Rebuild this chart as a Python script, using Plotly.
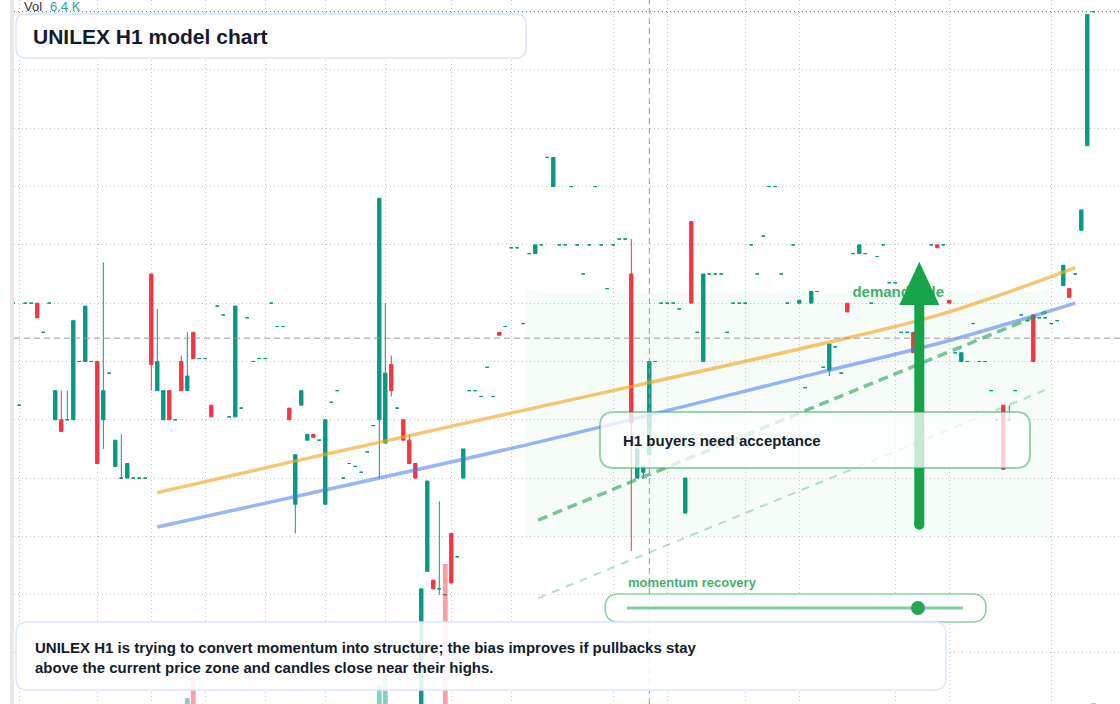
import plotly.graph_objects as go

W, H = 1120, 704
TEAL = "#089981"
RED = "#f23645"
GRID = "#c6c6c6"
INK = "#141c2c"
GREEN = "#16a34a"
FONT = "Liberation Sans, Arial, sans-serif"

# H1 candles, one per bar index (prices)
opens = [
    106.0, 104.25, 106.0, 106.0, 106.0, 105.5, 106.0, 104.0, 104.0, 104.0,
    104.0, 105.0, 105.0, 105.0, 105.0, 104.0, 104.8, 103.2, 103.0, 103.0,
    103.0, 103.0, 103.0, 106.5, 104.5, 104.0, 104.5, 104.0, 105.0, 104.5,
    105.5, 105.05, 105.05, 104.25, 105.95, 105.8, 104.05, 104.05, 104.2, 105.75,
    105.0, 105.05, 105.05, 106.0, 105.6, 105.6, 104.2, 102.55, 104.25, 103.65,
    103.75, 103.65, 102.55, 104.3, 104.5, 103.0, 103.25, 103.2, 103.1, 103.45,
    103.9, 104.0, 103.6, 104.95, 104.2, 104.0, 103.65, 103.25, 98.8, 101.4,
    101.25, 101.1, 101.0, 102.05, 101.65, 103.0, 104.5, 104.5, 104.4, 104.9,
    104.4, 105.5, 105.6, 106.95, 106.95, 105.65, 106.85, 106.85, 107.0, 108.5,
    108.0, 107.0, 107.0, 108.0, 107.0, 106.5, 107.0, 108.0, 107.0, 106.25,
    107.0, 107.1, 107.1, 106.5, 103.0, 103.1, 103.4, 105.0, 106.0, 106.0,
    106.0, 105.9, 102.4, 107.4, 105.5, 105.0, 106.5, 106.5, 106.5, 105.5,
    106.0, 106.0, 106.0, 107.0, 106.5, 107.15, 108.0, 108.0, 106.5, 106.0,
    107.0, 106.0, 104.55, 106.0, 106.2, 104.9, 104.85, 105.25, 104.8, 106.0,
    106.85, 106.85, 106.85, 106.0, 106.8, 107.0, 106.35, 106.35, 105.5, 105.5,
    105.5, 105.15, 106.0, 107.0, 107.0, 107.0, 106.05, 105.15, 105.0, 105.0,
    105.65, 105.0, 105.0, 104.5, 104.0, 104.25, 104.0, 104.5, 105.8, 105.7,
    105.8, 105.75, 105.75, 105.65, 105.7, 106.3, 106.25, 106.5, 107.25, 108.7,
    111.0,
]
highs = [
    106.0, 104.25, 106.0, 106.0, 106.0, 105.5, 106.0, 104.5, 104.5, 104.5,
    105.7, 105.0, 105.95, 105.0, 105.0, 106.7, 104.8, 103.65, 103.75, 103.25,
    103.0, 103.0, 103.0, 106.5, 105.9, 104.5, 104.5, 104.0, 105.1, 105.5,
    105.5, 105.05, 105.05, 104.25, 105.95, 105.8, 104.05, 105.95, 104.2, 105.75,
    105.0, 105.05, 105.05, 106.0, 105.6, 105.6, 104.2, 103.4, 104.5, 103.75,
    103.75, 103.65, 104.0, 104.3, 104.5, 103.0, 103.25, 103.2, 103.1, 103.45,
    103.9, 107.8, 106.0, 105.1, 104.2, 104.0, 103.75, 103.25, 101.1, 102.95,
    101.25, 102.6, 101.0, 102.05, 101.65, 103.5, 104.5, 104.5, 104.4, 104.9,
    104.4, 105.5, 105.6, 106.95, 106.95, 105.65, 106.85, 107.0, 107.0, 108.5,
    108.5, 107.0, 107.0, 108.0, 107.0, 106.5, 107.0, 108.0, 107.0, 106.25,
    107.0, 107.1, 107.1, 107.1, 103.5, 103.2, 105.0, 105.0, 106.0, 106.0,
    106.0, 105.9, 103.0, 107.4, 105.5, 106.5, 106.5, 106.5, 106.5, 105.5,
    106.0, 106.0, 106.0, 107.0, 106.5, 107.15, 108.0, 108.0, 106.5, 106.0,
    107.0, 106.05, 104.55, 106.2, 106.2, 104.9, 105.3, 105.25, 104.8, 106.0,
    106.85, 107.0, 106.85, 106.0, 106.8, 107.0, 106.35, 106.35, 105.5, 105.5,
    105.5, 105.15, 106.0, 107.0, 107.0, 107.0, 106.05, 105.15, 105.15, 105.0,
    105.65, 105.0, 105.0, 104.5, 104.0, 104.25, 104.25, 104.5, 105.8, 105.7,
    105.8, 105.75, 105.75, 105.65, 105.7, 106.65, 106.25, 106.5, 107.6, 110.95,
    111.0,
]
lows = [
    106.0, 104.25, 106.0, 106.0, 105.75, 105.5, 106.0, 104.0, 103.8, 104.0,
    104.0, 105.0, 105.0, 105.0, 103.25, 103.5, 104.8, 103.2, 103.0, 103.0,
    103.0, 103.0, 103.0, 104.5, 104.5, 104.0, 104.0, 104.0, 104.5, 104.5,
    105.05, 105.05, 105.05, 104.05, 105.95, 105.8, 104.05, 104.05, 104.2, 105.75,
    105.0, 105.05, 105.05, 106.0, 105.6, 105.6, 104.0, 102.05, 104.25, 103.65,
    103.7, 103.65, 102.55, 104.3, 104.5, 103.0, 103.25, 103.2, 103.1, 103.45,
    103.9, 103.0, 103.6, 104.4, 104.2, 103.65, 103.25, 103.0, 98.8, 101.4,
    101.1, 101.0, 101.0, 101.2, 101.65, 103.0, 104.5, 104.5, 104.4, 104.9,
    104.4, 105.45, 105.6, 106.95, 106.95, 105.65, 106.85, 106.85, 107.0, 108.5,
    108.0, 107.0, 107.0, 108.0, 107.0, 106.5, 107.0, 108.0, 107.0, 106.25,
    107.0, 107.1, 107.1, 101.75, 103.0, 103.0, 103.4, 105.0, 106.0, 106.0,
    106.0, 105.9, 102.4, 106.0, 105.5, 105.0, 106.5, 106.5, 106.5, 105.5,
    106.0, 106.0, 106.0, 107.0, 106.5, 107.15, 108.0, 108.0, 106.5, 106.0,
    107.0, 106.0, 104.55, 106.0, 106.2, 104.9, 104.75, 105.25, 104.8, 105.85,
    106.85, 106.85, 106.85, 106.0, 106.8, 107.0, 106.35, 106.35, 105.5, 105.5,
    105.15, 105.15, 106.0, 107.0, 106.95, 107.0, 106.0, 105.15, 105.0, 105.0,
    105.65, 105.0, 105.0, 104.5, 104.0, 103.15, 104.0, 104.5, 105.8, 105.7,
    105.0, 105.75, 105.75, 105.65, 105.7, 106.3, 106.1, 106.5, 107.25, 108.7,
    111.0,
]
closes = [
    106.0, 104.25, 106.0, 106.0, 105.75, 105.5, 106.0, 104.5, 103.8, 104.0,
    105.7, 105.0, 105.95, 105.0, 103.25, 104.5, 104.8, 103.65, 103.0, 103.25,
    103.0, 103.0, 103.0, 104.95, 105.0, 104.5, 104.0, 104.0, 104.5, 104.75,
    105.05, 105.05, 105.05, 104.05, 105.95, 105.8, 104.05, 105.95, 104.2, 105.75,
    105.0, 105.05, 105.05, 106.0, 105.6, 105.6, 104.0, 103.4, 104.5, 103.75,
    103.7, 103.65, 104.0, 104.3, 104.5, 103.0, 103.25, 103.2, 103.1, 103.45,
    103.9, 107.8, 104.8, 104.5, 104.2, 103.65, 103.25, 103.0, 101.1, 102.95,
    101.1, 101.1, 101.0, 101.2, 101.65, 103.5, 104.5, 104.5, 104.4, 104.9,
    104.4, 105.45, 105.6, 106.95, 106.95, 105.65, 106.85, 107.0, 107.0, 108.5,
    108.5, 107.0, 107.0, 108.0, 107.0, 106.5, 107.0, 108.0, 107.0, 106.25,
    107.0, 107.1, 107.1, 103.95, 103.5, 103.2, 105.0, 105.0, 106.0, 106.0,
    106.0, 105.9, 103.0, 106.0, 105.5, 106.5, 106.5, 106.5, 106.5, 105.5,
    106.0, 106.0, 106.0, 107.0, 106.5, 107.15, 108.0, 108.0, 106.5, 106.0,
    107.0, 106.05, 104.55, 106.2, 106.2, 104.9, 105.3, 105.25, 104.8, 105.85,
    106.85, 107.0, 106.85, 106.0, 106.8, 107.0, 106.35, 106.35, 105.5, 105.5,
    105.15, 105.15, 106.0, 107.0, 106.95, 107.0, 106.0, 105.15, 105.15, 105.0,
    105.65, 105.0, 105.0, 104.5, 104.0, 103.15, 104.0, 104.5, 105.8, 105.7,
    105.0, 105.75, 105.75, 105.65, 105.7, 106.65, 106.1, 106.5, 107.6, 110.95,
    111.0,
]
bars = list(range(len(opens)))

# volume (K) - only a handful of bars reach the bottom of the pane
vol_idx = [29, 30, 61, 62, 72, 180]
vol_k = [42, 182, 133, 203, 980, 6.4]
vol_up = [True, False, True, True, False, True]

# time grid (bar index of each session break)
grid_bars = [1, 14, 23, 32, 42, 52, 62, 73, 83, 100, 109, 122, 131, 147, 156, 173]

# overlays
orange_x = [24, 46, 88, 133, 155, 177]
orange_y = [102.75, 103.27, 104.23, 105.26, 105.82, 106.61]
blue_x = [24, 46, 88, 134, 156, 177]
blue_y = [102.16, 102.66, 103.63, 104.8, 105.36, 106.0]
trend_x = [87.45, 172.2]
trend_y = [102.28, 105.85]
trend_low_y = [100.94, 104.52]
zone_x = [85.4, 172.6]
zone_y = [102.0, 106.2]
arrow_bar = 151
arrow_y = [102.2, 105.97, 106.71]
cross_bar, cross_price = 106, 105.4
last_price = 111.0
momentum = 0.866


def rpath(x0, y0, x1, y1, rx, ry, conv):
    P = conv
    return (f"M{P(x0 + rx, y0)} L{P(x1 - rx, y0)} Q{P(x1, y0)} {P(x1, y0 + ry)} "
            f"L{P(x1, y1 - ry)} Q{P(x1, y1)} {P(x1 - rx, y1)} L{P(x0 + rx, y1)} "
            f"Q{P(x0, y1)} {P(x0, y1 - ry)} L{P(x0, y0 + ry)} Q{P(x0, y0)} {P(x0 + rx, y0)} Z")


def px(x, y):
    return f"{x / W:.5f},{1 - y / H:.5f}"


def dat(x, y):
    return f"{x:.4f},{y:.4f}"


def pbox(x0, y0, x1, y1, r, fill, line, lw=1.5):
    return dict(type="path", xref="paper", yref="paper", layer="above",
                path=rpath(x0, y0, x1, y1, r, r, px), fillcolor=fill,
                line=dict(color=line, width=lw))


def candles(sel, up, down):
    return go.Candlestick(
        x=[bars[i] for i in sel], open=[opens[i] for i in sel], high=[highs[i] for i in sel],
        low=[lows[i] for i in sel], close=[closes[i] for i in sel],
        increasing=dict(line=dict(color=up, width=1), fillcolor=up),
        decreasing=dict(line=dict(color=down, width=1), fillcolor=down),
        whiskerwidth=0, hoverinfo="skip",
    )


# doji bars (open == close) are drawn teal like the rest of the chart's flat prints
moving = [i for i in bars if opens[i] != closes[i]]
flat = [i for i in bars if opens[i] == closes[i]]

fig = go.Figure()

fig.add_trace(go.Bar(
    x=vol_idx, y=vol_k, yaxis="y2", width=0.8, hoverinfo="skip",
    marker=dict(color=["rgba(8,153,129,0.47)" if u else "rgba(242,54,69,0.47)" for u in vol_up],
                line_width=0),
))
fig.add_trace(candles(moving, TEAL, RED))
fig.add_trace(candles(flat, TEAL, TEAL))
fig.add_trace(go.Scatter(x=orange_x, y=orange_y, mode="lines", hoverinfo="skip",
                         line=dict(color="rgba(245,166,35,0.65)", width=3.5, shape="spline")))
fig.add_trace(go.Scatter(x=blue_x, y=blue_y, mode="lines", hoverinfo="skip",
                         line=dict(color="rgba(66,120,240,0.55)", width=3.5, shape="spline")))
fig.add_trace(go.Scatter(x=trend_x, y=trend_y, mode="lines", hoverinfo="skip",
                         line=dict(color="rgba(34,160,80,0.6)", width=3.5, dash="10px,6px")))
fig.add_trace(go.Scatter(x=trend_x, y=trend_low_y, mode="lines", hoverinfo="skip",
                         line=dict(color="rgba(34,160,80,0.32)", width=2, dash="8px,7px")))
fig.add_trace(go.Scatter(x=[147.5], y=[106.17], mode="text", text=["demand side"],
                         textposition="middle center", hoverinfo="skip",
                         textfont=dict(family=FONT, size=15, weight="bold",
                                       color="rgba(22,163,74,0.85)")))

half = 20 / 6
shapes = [
    dict(type="path", xref="x", yref="y", layer="below",
         path=rpath(zone_x[0], zone_y[1], zone_x[1], zone_y[0], 1.8, 0.18, dat),
         fillcolor="rgba(34,197,94,0.04)", line=dict(width=0)),
    dict(type="rect", xref="paper", yref="paper", x0=10 / W, x1=14 / W, y0=0, y1=1,
         fillcolor="#e8e8e8", line=dict(width=0), layer="above"),
    dict(type="line", xref="x", yref="paper", x0=cross_bar, x1=cross_bar, y0=0, y1=1,
         line=dict(color="#9a9a9a", width=1, dash="6px,4px"), layer="above"),
    dict(type="line", xref="paper", yref="y", x0=14 / W, x1=1, y0=cross_price, y1=cross_price,
         line=dict(color="#9a9a9a", width=1, dash="6px,4px"), layer="above"),
    dict(type="line", xref="paper", yref="y", x0=14 / W, x1=1, y0=last_price, y1=last_price,
         line=dict(color=TEAL, width=1, dash="1px,3px"), layer="above"),
    # arrow
    dict(type="line", xref="x", yref="y", x0=arrow_bar, x1=arrow_bar, y0=arrow_y[0], y1=arrow_y[1],
         line=dict(color=GREEN, width=10), layer="above"),
    dict(type="circle", xref="x", yref="y", x0=arrow_bar - 5 / 6, x1=arrow_bar + 5 / 6,
         y0=arrow_y[0] - 5 / 58.3, y1=arrow_y[0] + 5 / 58.3,
         fillcolor=GREEN, line=dict(width=0), layer="above"),
    dict(type="path", xref="x", yref="y", layer="above", fillcolor=GREEN, line=dict(width=0),
         path=f"M{dat(arrow_bar - half, arrow_y[1])} L{dat(arrow_bar + half, arrow_y[1])} "
              f"L{dat(arrow_bar, arrow_y[2])} Z"),
    # callout boxes
    pbox(600, 412, 1030, 468, 14, "rgba(255,255,255,0.76)", "rgba(34,160,80,0.45)", 2),
    pbox(605, 594, 986, 622, 14, "rgba(255,255,255,0.85)", "rgba(34,160,80,0.5)", 1.5),
    dict(type="line", xref="paper", yref="paper", x0=627 / W, x1=963 / W,
         y0=1 - 608 / H, y1=1 - 608 / H, line=dict(color="rgba(34,160,80,0.55)", width=3),
         layer="above"),
    pbox(16, 14, 526, 58, 10, "white", "#dbe6f8", 1.5),
    pbox(16, 622, 946, 690, 12, "rgba(255,255,255,0.88)", "#dbe7fb", 1.5),
]
dot_x = 627 + momentum * (963 - 627)
shapes.append(dict(type="circle", xref="paper", yref="paper",
                   x0=(dot_x - 7) / W, x1=(dot_x + 7) / W, y0=1 - 615 / H, y1=1 - 601 / H,
                   fillcolor="#27a557", line=dict(width=0), layer="above"))


def note(text, x, y, size, color=INK, weight="bold"):
    return dict(text=text, xref="paper", yref="paper", x=x / W, y=1 - y / H,
                xanchor="left", yanchor="middle", showarrow=False, align="left",
                font=dict(family=FONT, size=size, color=color, weight=weight))


annotations = [
    note("Vol", 22, 7, 13, "#333333", "normal"),
    note("6.4 K", 48, 7, 13, "#26a69a", "normal"),
    note("UNILEX H1 model chart", 31, 36, 21),
    note("H1 buyers need acceptance", 621, 440, 15),
    note("momentum recovery", 626, 582, 13, "rgba(22,163,74,0.85)"),
    note("UNILEX H1 is trying to convert momentum into structure; the bias improves if pullbacks stay"
         "<br>above the current price zone and candles close near their highs.", 33, 657, 15),
]

fig.update_layout(
    width=W, height=H, margin=dict(l=0, r=0, t=0, b=0),
    paper_bgcolor="white", plot_bgcolor="white",
    showlegend=False, hovermode=False, boxgap=0.2,
    shapes=shapes, annotations=annotations,
    xaxis=dict(domain=[14 / W, 1], range=[0.117, 184.45], tickvals=grid_bars,
               showticklabels=False, ticks="", showgrid=True, gridcolor=GRID,
               griddash="1px,3px", gridwidth=1, zeroline=False, showline=False,
               rangeslider=dict(visible=False), fixedrange=True),
    yaxis=dict(range=[99.125, 111.2], tick0=100, dtick=1, showticklabels=False, ticks="",
               showgrid=True, gridcolor=GRID, griddash="1px,3px", gridwidth=1,
               zeroline=False, showline=False, fixedrange=True),
    yaxis2=dict(overlaying="y", range=[0, 4928], visible=False, fixedrange=True),
)

fig.write_html("out.html", config={"displayModeBar": False},
               post_script="document.body.style.margin='0';document.body.style.overflow='hidden';")
